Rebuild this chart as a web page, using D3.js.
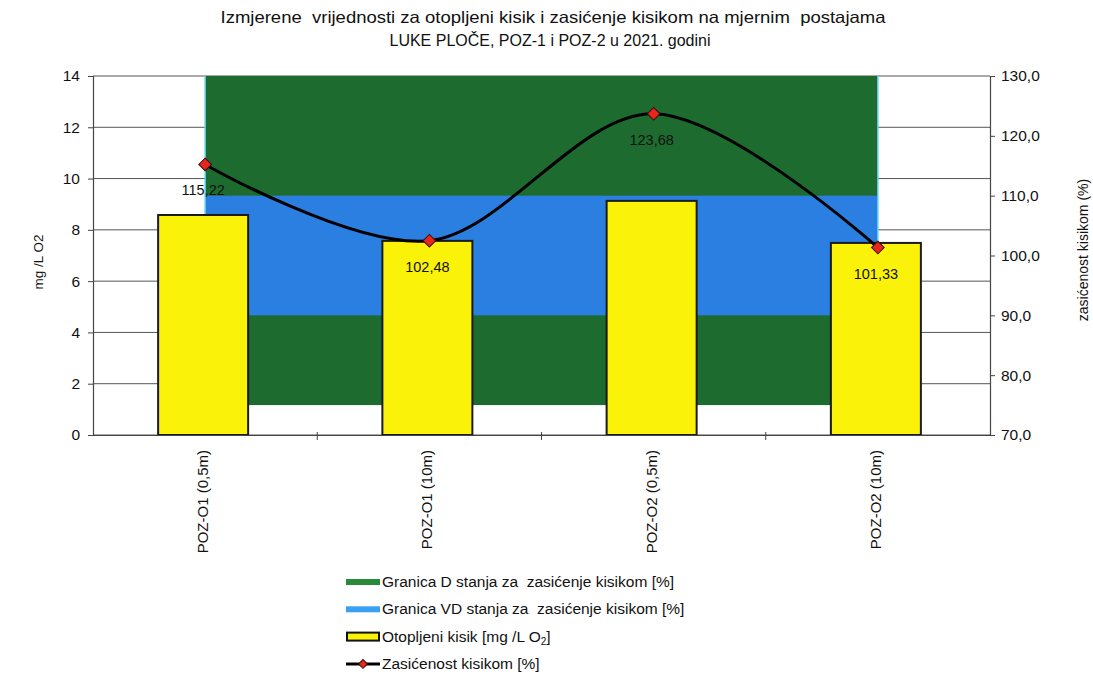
<!DOCTYPE html>
<html>
<head>
<meta charset="utf-8">
<script src="https://cdn.jsdelivr.net/npm/d3@7"></script>
<style>
  body { margin: 0; background: #fff; }
  text { font-family: "Liberation Sans", Arial, sans-serif; fill: #111; white-space: pre; }
</style>
</head>
<body>
<div id="chart"></div>
<script>
// data
let categories = ["POZ-O1 (0,5m)", "POZ-O1 (10m)", "POZ-O2 (0,5m)", "POZ-O2 (10m)"];
let oxygen = [8.58, 7.57, 9.13, 7.49];          // mg/L O2, left axis
let saturation = [115.22, 102.48, 123.68, 101.33]; // %, right axis
let dBand = [75, 130];   // granica D stanja
let vdBand = [90, 110];  // granica VD stanja
let leftTicks = [0, 2, 4, 6, 8, 10, 12, 14];
let rightTicks = [70, 80, 90, 100, 110, 120, 130];

let width = 1093, height = 687;
let margin = {left: 93, right: 103, top: 76, bottom: 252};
let plotW = width - margin.left - margin.right;
let plotH = height - margin.top - margin.bottom;

let svg = d3.select("#chart").append("svg")
  .attr("width", width).attr("height", height);

let x = d3.scaleBand().domain(categories).range([0, plotW]).paddingInner(0).paddingOuter(0);
let yL = d3.scaleLinear().domain([0, 14]).range([plotH, 0]);
let yR = d3.scaleLinear().domain([70, 130]).range([plotH, 0]);
let cx = d => x(d) + x.bandwidth() / 2;

let fmt = v => d3.format(".2f")(v).replace(".", ",");
let fmt1 = v => d3.format(".1f")(v).replace(".", ",");

// title
svg.append("text").attr("x", 553).attr("y", 23).attr("text-anchor", "middle")
  .style("font-size", "16.5px").attr("textLength", 665).attr("lengthAdjust", "spacingAndGlyphs")
  .text("Izmjerene  vrijednosti za otopljeni kisik i zasićenje kisikom na mjernim  postajama");
svg.append("text").attr("x", 550).attr("y", 46).attr("text-anchor", "middle")
  .style("font-size", "16px")
  .text("LUKE PLOČE, POZ-1 i POZ-2 u 2021. godini");

let g = svg.append("g").attr("transform", `translate(${margin.left},${margin.top})`);

// gridlines
g.append("g").selectAll("line").data(leftTicks).join("line")
  .attr("x1", 0).attr("x2", plotW)
  .attr("y1", d => yL(d)).attr("y2", d => yL(d))
  .attr("stroke", "#555").attr("stroke-width", 1);

// threshold areas
let x0 = cx(categories[0]), x1 = cx(categories[categories.length - 1]);
g.append("rect").attr("x", x0).attr("width", x1 - x0)
  .attr("y", yR(dBand[1])).attr("height", yR(dBand[0]) - yR(dBand[1]))
  .attr("fill", "#1d6b2f");
g.append("rect").attr("x", x0).attr("width", x1 - x0)
  .attr("y", yR(vdBand[1])).attr("height", yR(vdBand[0]) - yR(vdBand[1]))
  .attr("fill", "#2a7fe0");
[x0, x1].forEach(v => g.append("line").attr("x1", v).attr("x2", v)
  .attr("y1", yR(130)).attr("y2", yR(dBand[0]))
  .attr("stroke", "#5fd3ef").attr("stroke-width", 1.5));

// bars
let barW = 90;
g.append("g").selectAll("rect").data(oxygen).join("rect")
  .attr("x", (d, i) => cx(categories[i]) - barW / 2 - 2)
  .attr("width", barW)
  .attr("y", d => yL(d))
  .attr("height", d => plotH - yL(d))
  .attr("fill", "#fbf20a").attr("stroke", "#1a1a1a").attr("stroke-width", 2);

// axes
let axL = g.append("g").call(d3.axisLeft(yL).tickValues(leftTicks).tickSize(5).tickPadding(8));
let axR = g.append("g").attr("transform", `translate(${plotW},0)`)
  .call(d3.axisRight(yR).tickValues(rightTicks).tickSize(5).tickPadding(6).tickFormat(fmt1));
let axB = g.append("g").attr("transform", `translate(0,${plotH})`)
  .call(d3.axisBottom(x).tickSize(0).tickFormat(""));
[axL, axR, axB].forEach(a => {
  a.select(".domain").attr("stroke", "#444").attr("stroke-width", 1.2);
  a.selectAll(".tick line").attr("stroke", "#444");
  a.selectAll(".tick text").style("font-size", "15.5px").style("font-family", "Liberation Sans, Arial, sans-serif").attr("fill", "#111");
});
// category boundary ticks
g.append("g").selectAll("line").data(categories.slice(1)).join("line")
  .attr("x1", d => x(d)).attr("x2", d => x(d))
  .attr("y1", plotH - 3).attr("y2", plotH + 5).attr("stroke", "#444");

// category labels
g.append("g").selectAll("text").data(categories).join("text")
  .attr("transform", d => `translate(${cx(d) + 3},${plotH + 15}) rotate(-90)`)
  .attr("text-anchor", "end")
  .style("font-size", "15px")
  .text(d => d);

// saturation line
let line = d3.line()
  .x((d, i) => cx(categories[i]))
  .y(d => yR(d))
  .curve(d3.curveCatmullRom.alpha(0));
g.append("path").datum(saturation).attr("d", line)
  .attr("fill", "none").attr("stroke", "#000").attr("stroke-width", 3);

g.append("g").selectAll("path").data(saturation).join("path")
  .attr("d", d3.symbol(d3.symbolSquare, 80))
  .attr("transform", (d, i) => `translate(${cx(categories[i])},${yR(d)}) rotate(45)`)
  .attr("fill", "#e8261e").attr("stroke", "#3a0a0a").attr("stroke-width", 1);

g.append("g").selectAll("text").data(saturation).join("text")
  .attr("x", (d, i) => cx(categories[i]) - 2)
  .attr("y", d => yR(d) + 31)
  .attr("text-anchor", "middle")
  .style("font-size", "14.5px")
  .text(d => fmt(d));

// axis titles
svg.append("text")
  .attr("transform", `translate(43,262) rotate(-90)`)
  .attr("text-anchor", "middle").style("font-size", "13.5px")
  .text("mg /L O2");
svg.append("text")
  .attr("transform", `translate(1088,250) rotate(-90)`)
  .attr("text-anchor", "middle").style("font-size", "14px")
  .text("zasićenost kisikom (%)");

// legend
let lg = svg.append("g").attr("transform", "translate(346,582)");
let rowH = 27.3;
lg.append("rect").attr("x", 0).attr("y", -3).attr("width", 34).attr("height", 6).attr("fill", "#2a8a3a");
lg.append("rect").attr("x", 0).attr("y", rowH - 3).attr("width", 34).attr("height", 6).attr("fill", "#3aa0f0");
lg.append("rect").attr("x", 1).attr("y", 2 * rowH - 4).attr("width", 32).attr("height", 8)
  .attr("fill", "#fbf20a").attr("stroke", "#111").attr("stroke-width", 2);
lg.append("line").attr("x1", 0).attr("x2", 34).attr("y1", 3 * rowH).attr("y2", 3 * rowH)
  .attr("stroke", "#000").attr("stroke-width", 3);
lg.append("path").attr("d", d3.symbol(d3.symbolSquare, 40))
  .attr("transform", `translate(17,${3 * rowH}) rotate(45)`)
  .attr("fill", "#e8261e").attr("stroke", "#3a0a0a").attr("stroke-width", 1);

let legFont = "15.5px";
let legTexts = ["Granica D stanja za  zasićenje kisikom [%]",
                "Granica VD stanja za  zasićenje kisikom [%]"];
legTexts.forEach((t, i) => lg.append("text").attr("x", 36).attr("y", i * rowH + 5)
  .style("font-size", legFont).text(t));
let t3 = lg.append("text").attr("x", 36).attr("y", 2 * rowH + 5).style("font-size", legFont);
t3.append("tspan").text("Otopljeni kisik [mg /L O");
t3.append("tspan").attr("dy", 3).style("font-size", "10px").text("2");
t3.append("tspan").attr("dy", -3).text("]");
lg.append("text").attr("x", 36).attr("y", 3 * rowH + 5)
  .style("font-size", legFont).text("Zasićenost kisikom [%]");
</script>
</body>
</html>
